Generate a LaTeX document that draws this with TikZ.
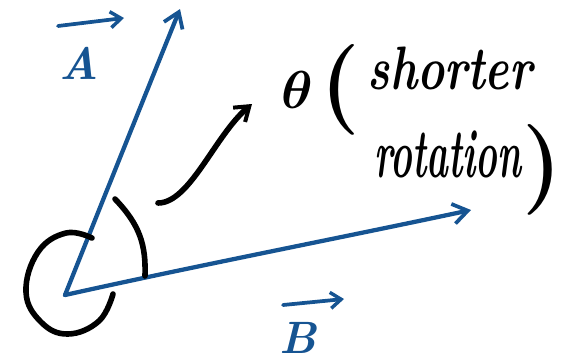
\documentclass[tikz,border=0pt]{standalone}
\usetikzlibrary{arrows.meta}
\definecolor{vecblue}{RGB}{22,84,146}
\begin{document}
\begin{tikzpicture}[x=0.75pt,y=-0.75pt,
  vec/.style={draw=vecblue,line width=3.2pt,line cap=round,line join=round,-{Straight Barb[length=11pt,width=15pt,line width=2.8pt]}},
  ink/.style={draw=black,line width=4.2pt,line cap=round,line join=round},
  bluetext/.style={text=vecblue,inner sep=0pt},
  blacktext/.style={text=black,inner sep=0pt}]
\useasboundingbox (0,0) rectangle (577,361);
\coordinate (O) at (65,295);
\coordinate (Atip) at (180,9);
\coordinate (Btip) at (471,210);
% vectors
\draw[vec] (O) .. controls (95,220) and (135,120) .. (Atip);
\draw[vec] (O) .. controls (200,265) and (330,240) .. (Btip);
% angle theta arc
\coordinate (thA) at (115,199);
\coordinate (thB) at (145,276);
\draw[ink] (thA) .. controls (140,225) and (146,245) .. (thB);
% reflex arc
\draw[ink] plot[smooth,tension=0.7] coordinates {(92,238) (66,233) (38,252) (26,292) (41,322) (68,334) (99,321) (113,294)};
% curved arrow
\coordinate (cs) at (158,203);
\coordinate (ce) at (252,104);
\draw[ink,-{Straight Barb[length=10pt,width=14pt,line width=3pt]}] (cs) .. controls (190,203) and (215,135) .. (ce);
% labels
\node[blacktext,scale=4,font=\boldmath] (th) at (297,90) {$\theta$};
\node[blacktext,font=\fontsize{68}{68}\selectfont\bfseries] (lp) at (340,90) {(};
\node[blacktext,font=\fontsize{40}{40}\selectfont\bfseries\itshape,xscale=0.86,yscale=1.15] (sh) at (450,68) {shorter};
\node[blacktext,font=\fontsize{40}{40}\selectfont\bfseries\itshape,xscale=0.69,yscale=1.3] (ro) at (448,154) {rotation};
\node[blacktext,font=\fontsize{68}{68}\selectfont\bfseries] (rp) at (542,170) {)};
\node[bluetext,font=\fontsize{34}{34}\selectfont\bfseries\itshape] (Alab) at (79,63) {A};
\node[bluetext,font=\fontsize{34}{34}\selectfont\bfseries\itshape] (Blab) at (298,338) {B};
\coordinate (Aa1) at (58,26);
\coordinate (Aa2) at (124,18);
\coordinate (Ba1) at (283,305);
\coordinate (Ba2) at (344,299);
\draw[vec,line width=2.8pt,-{Straight Barb[length=8pt,width=12pt,line width=2.6pt]}] (Aa1) -- (Aa2);
\draw[vec,line width=2.8pt,-{Straight Barb[length=8pt,width=12pt,line width=2.6pt]}] (Ba1) -- (Ba2);
\end{tikzpicture}
\end{document}
